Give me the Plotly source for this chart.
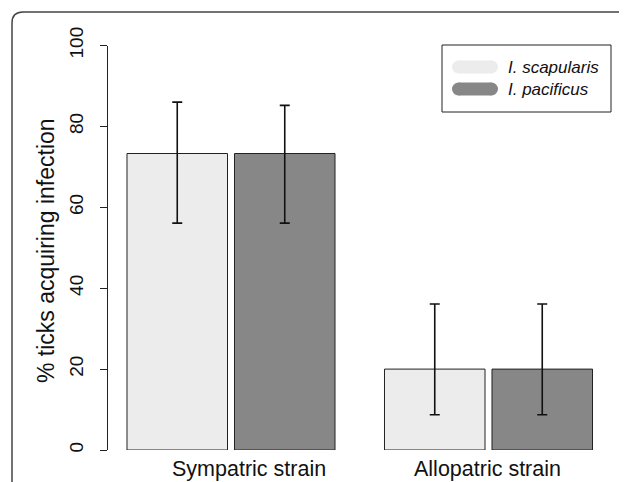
import plotly.graph_objects as go

# ---- data ----
strains = ["Sympatric strain", "Allopatric strain"]
species = ["I. scapularis", "I. pacificus"]
scapularis_pct = [73.3, 20.0]
scapularis_lo = [56.1, 8.7]
scapularis_hi = [86.0, 36.1]
pacificus_pct = [73.3, 20.0]
pacificus_lo = [56.1, 8.7]
pacificus_hi = [85.2, 36.1]
y_ticks = [0, 20, 40, 60, 80, 100]
colors = ["#ECECEC", "#878787"]

# the page body keeps an 8px margin, so the figure is offset by 8px
OFF = 8
VW, VH = 627, 482
W, H = VW - OFF, VH - OFF
FONT = "Liberation Sans, Arial, Helvetica, sans-serif"


def px(x):
    return (x - OFF) / W


def py(y):
    return 1 - (y - OFF) / H


group_x = list(range(len(strains)))
series = [
    (species[0], scapularis_pct, scapularis_lo, scapularis_hi, colors[0]),
    (species[1], pacificus_pct, pacificus_lo, pacificus_hi, colors[1]),
]

fig = go.Figure()
for name, vals, lo, hi, col in series:
    fig.add_trace(go.Bar(
        x=group_x, y=vals, name=name,
        marker=dict(color=col, line=dict(color="#222222", width=1)),
        error_y=dict(type="data", symmetric=False,
                     array=[h - v for h, v in zip(hi, vals)],
                     arrayminus=[v - l for v, l in zip(vals, lo)],
                     color="#111111", thickness=1.6, width=5),
        showlegend=False,
    ))

unit = 257.5
left_px = 108
x0 = -(231 - left_px) / unit
x1 = x0 + (VW - left_px) / unit

shapes = []
# outer rounded frame
shapes.append(dict(
    type="path", xref="paper", yref="paper",
    path=f"M {px(12)},{py(520)} L {px(12)},{py(23)} Q {px(12)},{py(12)} {px(23)},{py(12)} L {px(660)},{py(12)}",
    line=dict(color="#444444", width=1.5),
))
# legend box
shapes.append(dict(type="rect", xref="paper", yref="paper",
                   x0=px(442), x1=px(611), y0=py(112), y1=py(45),
                   line=dict(color="#222222", width=1), fillcolor="white"))
annotations = []
leg_y = [67, 89]
r = 6.5
for (name, _, _, _, col), yc in zip(series, leg_y):
    shapes.append(dict(type="rect", xref="paper", yref="paper",
                       x0=px(452 + r), x1=px(498 - r), y0=py(yc + r), y1=py(yc - r),
                       line=dict(width=0), fillcolor=col))
    for cx in (452 + r, 498 - r):
        shapes.append(dict(type="circle", xref="paper", yref="paper",
                           x0=px(cx - r), x1=px(cx + r), y0=py(yc + r), y1=py(yc - r),
                           line=dict(width=0), fillcolor=col))
    annotations.append(dict(text=f"<i>{name}</i>", xref="paper", yref="paper",
                            x=px(506), y=py(yc), xanchor="left", yanchor="middle",
                            showarrow=False, font=dict(size=17, family=FONT, color="#111")))

# y axis title
annotations.append(dict(text="% ticks acquiring infection", xref="paper", yref="paper",
                        x=px(46), y=py(251), textangle=-90, showarrow=False,
                        xanchor="center", yanchor="middle",
                        font=dict(size=23, family=FONT, color="#111")))
# category labels
for name, cxp in zip(strains, [249, 487.5]):
    annotations.append(dict(text=name, xref="paper", yref="paper",
                            x=px(cxp), y=py(469), xanchor="center", yanchor="middle",
                            showarrow=False, font=dict(size=21.5, family=FONT, color="#111")))

fig.update_layout(
    width=W, height=H,
    margin=dict(l=0, r=0, t=0, b=0, autoexpand=False),
    paper_bgcolor="white", plot_bgcolor="white",
    barmode="group", bargap=0.165, bargroupgap=0.065,
    showlegend=False,
    shapes=shapes, annotations=annotations,
    xaxis=dict(domain=[px(left_px), 1], range=[x0, x1], showgrid=False, automargin=False,
               zeroline=False, showticklabels=False, showline=False, ticks=""),
    yaxis=dict(domain=[py(450), py(45.5)], range=[0, 100], tickvals=y_ticks,
               automargin=False,
               ticks="outside", ticklen=7, tickcolor="#222222", tickwidth=1,
               showline=True, linecolor="#222222", linewidth=1,
               tickangle=-90, ticklabelstandoff=9,
               tickfont=dict(size=19, family=FONT, color="#111"),
               showgrid=False, zeroline=False),
)

fig.write_html("out.html")
